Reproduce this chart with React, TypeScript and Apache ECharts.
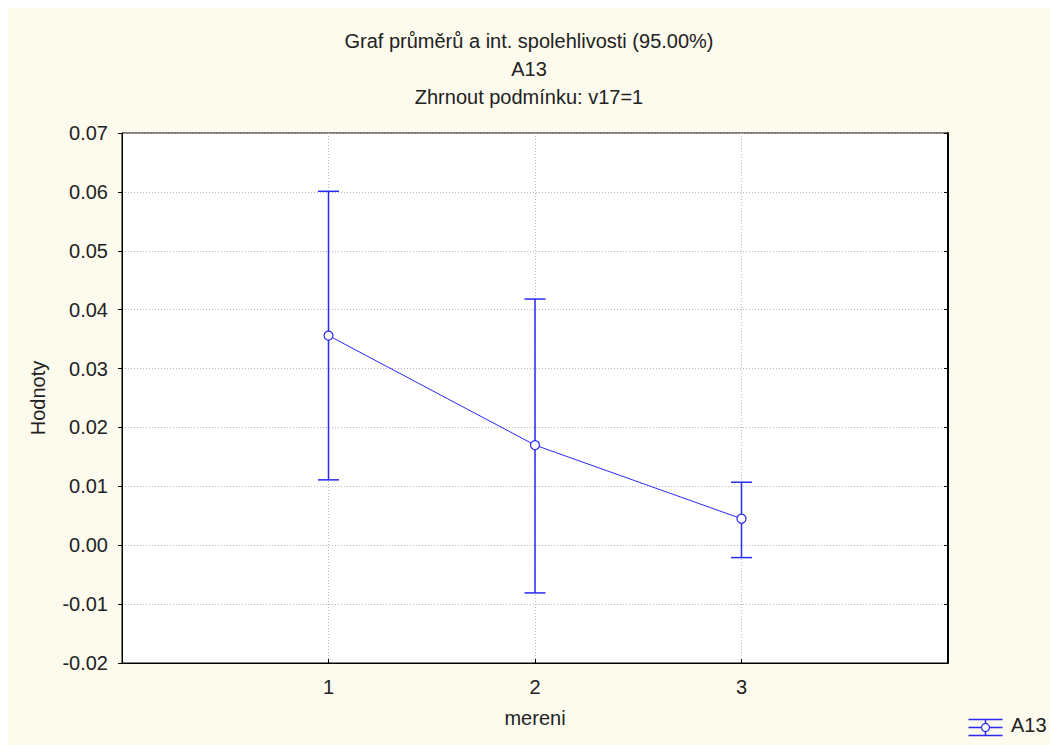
import React, { useEffect, useRef } from "react";
import * as echarts from "echarts";

const titleLines = ["Graf průměrů a int. spolehlivosti (95.00%)", "A13", "Zhrnout podmínku: v17=1"];
const categories = [1, 2, 3];
const means = [0.0356, 0.017, 0.0045];
const lower = [0.0111, -0.0081, -0.0021];
const upper = [0.0601, 0.0418, 0.0107];
const yTicks = { min: -0.02, max: 0.07, step: 0.01 };
const seriesName = "A13";
const xName = "mereni";
const yName = "Hodnoty";

const BLUE = "#2a2af5";
const FONT = "'Liberation Sans', Arial, sans-serif";
const FS = 20;

export default function App() {
  const ref = useRef<HTMLDivElement>(null);
  useEffect(() => {
    if (!ref.current) return;
    const chart = echarts.init(ref.current, undefined, { renderer: "svg" });
    const errData = categories.map((c, i) => [c, lower[i], upper[i]]);
    chart.setOption({
      animation: false,
      backgroundColor: "#fdfaee",
      textStyle: { fontFamily: FONT },
      title: {
        text: titleLines.join("\n"),
        left: "center",
        top: 14,
        textStyle: { fontFamily: FONT, fontSize: FS, fontWeight: "normal", color: "#222", lineHeight: 28 },
      },
      grid: {
        left: 114,
        top: 125,
        width: 826,
        height: 530,
        show: true,
        backgroundColor: "#ffffff",
        borderColor: "#000",
        borderWidth: 1,
      },
      xAxis: {
        type: "value",
        min: 0,
        max: 4,
        interval: 1,
        name: xName,
        nameLocation: "middle",
        nameGap: 45,
        nameTextStyle: { fontFamily: FONT, fontSize: FS, color: "#222" },
        axisLine: { show: true, onZero: false, lineStyle: { color: "#000" } },
        axisTick: { show: true, inside: true, length: 4, lineStyle: { color: "#000" } },
        axisLabel: {
          fontFamily: FONT,
          fontSize: FS,
          color: "#222",
          margin: 14,
          formatter: (v: number) => (categories.includes(v) ? String(v) : ""),
        },
        splitLine: { show: true, lineStyle: { color: "#b8b8b8", type: [1, 2] } },
      },
      yAxis: [
        {
          type: "value",
          min: yTicks.min,
          max: yTicks.max,
          interval: yTicks.step,
          name: yName,
          nameLocation: "middle",
          nameGap: 74,
          nameTextStyle: { fontFamily: FONT, fontSize: FS, color: "#222" },
          axisLine: { show: true, onZero: false, lineStyle: { color: "#000" } },
          axisTick: { show: true, length: 4, lineStyle: { color: "#000" } },
          axisLabel: {
            fontFamily: FONT,
            fontSize: FS,
            color: "#222",
            margin: 14,
            formatter: (v: number) => v.toFixed(2),
          },
          splitLine: { show: true, lineStyle: { color: "#b8b8b8", type: [1, 2] } },
        },
        {
          type: "value",
          position: "right",
          min: yTicks.min,
          max: yTicks.max,
          interval: yTicks.step,
          axisLine: { show: true, onZero: false, lineStyle: { color: "#000", width: 2 } },
          axisTick: { show: true, inside: true, length: 4, lineStyle: { color: "#000" } },
          axisLabel: { show: false },
          splitLine: { show: false },
        },
      ],
      series: [
        {
          type: "custom",
          name: seriesName + " CI",
          data: errData,
          z: 3,
          renderItem: (params: any, api: any) => {
            const x = api.value(0);
            const lo = api.coord([x, api.value(1)]);
            const hi = api.coord([x, api.value(2)]);
            const hw = 10.5;
            const style = { stroke: BLUE, lineWidth: 1.5 };
            return {
              type: "group",
              children: [
                { type: "line", shape: { x1: lo[0], y1: lo[1], x2: hi[0], y2: hi[1] }, style },
                { type: "line", shape: { x1: lo[0] - hw, y1: lo[1], x2: lo[0] + hw, y2: lo[1] }, style },
                { type: "line", shape: { x1: hi[0] - hw, y1: hi[1], x2: hi[0] + hw, y2: hi[1] }, style },
              ],
            };
          },
        },
        {
          type: "line",
          name: seriesName,
          data: categories.map((c, i) => [c, means[i]]),
          z: 4,
          symbol: "circle",
          symbolSize: 9,
          showSymbol: true,
          lineStyle: { color: BLUE, width: 1 },
          itemStyle: { color: "#ffffff", borderColor: BLUE, borderWidth: 1.2 },
        },
      ],
      graphic: [
        {
          type: "group",
          left: 958,
          top: 709,
          children: [
            { type: "line", shape: { x1: 0, y1: 0, x2: 34, y2: 0 }, style: { stroke: BLUE, lineWidth: 1.5 } },
            { type: "line", shape: { x1: 0, y1: 8, x2: 34, y2: 8 }, style: { stroke: BLUE, lineWidth: 1.5 } },
            { type: "line", shape: { x1: 0, y1: 16, x2: 34, y2: 16 }, style: { stroke: BLUE, lineWidth: 1.5 } },
            { type: "line", shape: { x1: 17, y1: 0, x2: 17, y2: 16 }, style: { stroke: BLUE, lineWidth: 1.5 } },
            { type: "circle", shape: { cx: 17, cy: 8, r: 4 }, style: { fill: "#fff", stroke: BLUE, lineWidth: 1.2 } },
          ],
        },
        {
          type: "text",
          left: 1003,
          top: 707,
          style: { text: seriesName, fontFamily: FONT, fontSize: FS, fill: "#222" },
        },
      ],
    });
    return () => chart.dispose();
  }, []);
  return (
    <div
      ref={ref}
      style={{ position: "fixed", left: 8, top: 8, width: 1042, height: 737 }}
    />
  );
}
